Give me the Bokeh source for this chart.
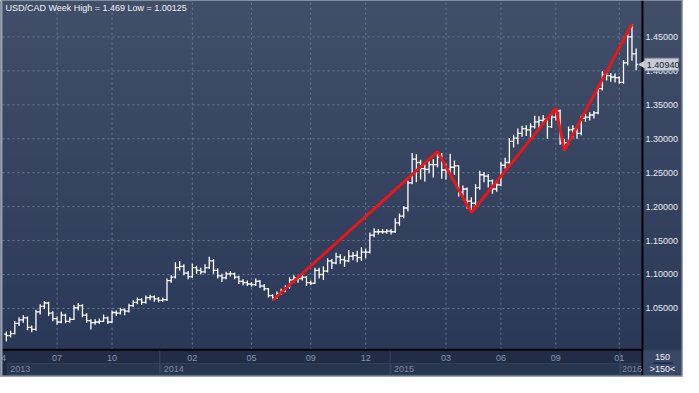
import numpy as np
from bokeh.plotting import figure
from bokeh.models import Range1d
from bokeh.core.properties import value
from bokeh.embed import file_html
from bokeh.resources import INLINE

# ---------------- data (weekly USD/CAD bars) ----------------
opens = [1.012, 1.010, 1.013, 1.028, 1.033, 1.036, 1.022, 1.019, 1.045, 1.053,
         1.058, 1.043, 1.035, 1.030, 1.040, 1.031, 1.034, 1.051, 1.054, 1.040,
         1.032, 1.029, 1.030, 1.031, 1.036, 1.030, 1.044, 1.043, 1.048, 1.046,
         1.054, 1.059, 1.063, 1.059, 1.066, 1.067, 1.064, 1.062, 1.063, 1.091,
         1.096, 1.110, 1.112, 1.102, 1.097, 1.110, 1.106, 1.104, 1.110, 1.120,
         1.106, 1.098, 1.095, 1.101, 1.101, 1.096, 1.090, 1.088, 1.086, 1.085,
         1.090, 1.083, 1.079, 1.069, 1.066, 1.072, 1.076, 1.081, 1.092, 1.095,
         1.094, 1.096, 1.088, 1.087, 1.106, 1.100, 1.105, 1.120, 1.117, 1.126,
         1.122, 1.120, 1.127, 1.128, 1.125, 1.133, 1.133, 1.158, 1.163, 1.163,
         1.163, 1.164, 1.163, 1.176, 1.186, 1.198, 1.235, 1.270, 1.265, 1.256,
         1.255, 1.262, 1.262, 1.273, 1.254, 1.255, 1.258, 1.260, 1.221, 1.226,
         1.208, 1.205, 1.228, 1.247, 1.245, 1.238, 1.226, 1.232, 1.261, 1.265,
         1.296, 1.301, 1.308, 1.315, 1.313, 1.318, 1.325, 1.327, 1.329, 1.318,
         1.332, 1.341, 1.294, 1.294, 1.313, 1.315, 1.308, 1.330, 1.332, 1.335,
         1.338, 1.374, 1.395, 1.393, 1.391, 1.390, 1.383, 1.412, 1.450, 1.425]
highs = [1.016, 1.017, 1.031, 1.037, 1.040, 1.038, 1.025, 1.048, 1.056, 1.061,
         1.060, 1.046, 1.038, 1.045, 1.042, 1.037, 1.055, 1.058, 1.056, 1.043,
         1.034, 1.034, 1.035, 1.041, 1.038, 1.047, 1.047, 1.051, 1.050, 1.057,
         1.062, 1.066, 1.065, 1.069, 1.070, 1.069, 1.067, 1.066, 1.094, 1.099,
         1.118, 1.120, 1.115, 1.105, 1.116, 1.113, 1.110, 1.115, 1.126, 1.123,
         1.109, 1.101, 1.104, 1.105, 1.103, 1.098, 1.093, 1.091, 1.089, 1.094,
         1.092, 1.086, 1.080, 1.071, 1.075, 1.079, 1.084, 1.096, 1.099, 1.098,
         1.101, 1.098, 1.091, 1.110, 1.110, 1.112, 1.124, 1.123, 1.132, 1.130,
         1.127, 1.136, 1.133, 1.135, 1.140, 1.138, 1.162, 1.168, 1.167, 1.167,
         1.167, 1.167, 1.183, 1.190, 1.201, 1.238, 1.279, 1.277, 1.269, 1.262,
         1.267, 1.270, 1.281, 1.279, 1.263, 1.278, 1.268, 1.261, 1.231, 1.228,
         1.214, 1.233, 1.253, 1.251, 1.248, 1.240, 1.239, 1.266, 1.272, 1.301,
         1.306, 1.315, 1.319, 1.320, 1.323, 1.334, 1.333, 1.335, 1.331, 1.337,
         1.345, 1.343, 1.300, 1.318, 1.320, 1.318, 1.334, 1.337, 1.339, 1.341,
         1.378, 1.400, 1.399, 1.397, 1.396, 1.392, 1.416, 1.455, 1.469, 1.433]
lows = [1.00125, 1.007, 1.012, 1.024, 1.029, 1.018, 1.015, 1.017, 1.041, 1.049,
        1.039, 1.031, 1.026, 1.028, 1.028, 1.029, 1.033, 1.047, 1.037, 1.029,
        1.019, 1.026, 1.027, 1.030, 1.027, 1.029, 1.039, 1.041, 1.040, 1.044,
        1.052, 1.056, 1.055, 1.057, 1.062, 1.060, 1.059, 1.060, 1.061, 1.088,
        1.094, 1.106, 1.099, 1.093, 1.095, 1.101, 1.100, 1.102, 1.108, 1.101,
        1.094, 1.089, 1.093, 1.097, 1.093, 1.086, 1.084, 1.083, 1.082, 1.083,
        1.080, 1.076, 1.066, 1.062, 1.064, 1.070, 1.074, 1.079, 1.088, 1.088,
        1.091, 1.083, 1.084, 1.086, 1.094, 1.092, 1.103, 1.108, 1.115, 1.116,
        1.111, 1.118, 1.121, 1.118, 1.120, 1.124, 1.131, 1.155, 1.159, 1.160,
        1.160, 1.159, 1.161, 1.172, 1.183, 1.193, 1.233, 1.236, 1.240, 1.237,
        1.249, 1.243, 1.258, 1.241, 1.240, 1.248, 1.247, 1.215, 1.216, 1.197,
        1.191, 1.198, 1.225, 1.236, 1.228, 1.219, 1.222, 1.230, 1.256, 1.263,
        1.287, 1.292, 1.303, 1.304, 1.301, 1.315, 1.313, 1.322, 1.300, 1.316,
        1.327, 1.291, 1.283, 1.292, 1.302, 1.300, 1.305, 1.325, 1.327, 1.330,
        1.336, 1.371, 1.386, 1.384, 1.383, 1.381, 1.381, 1.408, 1.415, 1.401]
closes = [1.010, 1.013, 1.028, 1.033, 1.036, 1.022, 1.019, 1.045, 1.053, 1.058,
          1.043, 1.035, 1.030, 1.040, 1.031, 1.034, 1.051, 1.054, 1.040, 1.032,
          1.029, 1.030, 1.031, 1.036, 1.030, 1.044, 1.043, 1.048, 1.046, 1.054,
          1.059, 1.063, 1.059, 1.066, 1.067, 1.064, 1.062, 1.063, 1.091, 1.096,
          1.110, 1.112, 1.102, 1.097, 1.110, 1.106, 1.104, 1.110, 1.120, 1.106,
          1.098, 1.095, 1.101, 1.101, 1.096, 1.090, 1.088, 1.086, 1.085, 1.090,
          1.083, 1.079, 1.069, 1.066, 1.072, 1.076, 1.081, 1.092, 1.095, 1.094,
          1.096, 1.088, 1.087, 1.106, 1.100, 1.105, 1.120, 1.117, 1.126, 1.122,
          1.120, 1.127, 1.128, 1.125, 1.133, 1.133, 1.158, 1.163, 1.163, 1.163,
          1.164, 1.163, 1.176, 1.186, 1.198, 1.235, 1.270, 1.265, 1.256, 1.255,
          1.262, 1.262, 1.273, 1.254, 1.255, 1.258, 1.260, 1.221, 1.226, 1.208,
          1.205, 1.228, 1.247, 1.245, 1.238, 1.226, 1.232, 1.261, 1.265, 1.296,
          1.301, 1.308, 1.315, 1.313, 1.318, 1.325, 1.327, 1.329, 1.318, 1.332,
          1.341, 1.294, 1.294, 1.313, 1.315, 1.308, 1.330, 1.332, 1.335, 1.338,
          1.374, 1.395, 1.393, 1.391, 1.390, 1.383, 1.412, 1.450, 1.425, 1.4094]

# zigzag swing points (bar index, price)
zz_idx = [63, 102, 110, 130, 132, 148]
zz_val = [1.062, 1.281, 1.191, 1.345, 1.283, 1.469]

# axis content
price_ticks = [1.05, 1.10, 1.15, 1.20, 1.25, 1.30, 1.35, 1.40, 1.45]
month_labels = ["4", "07", "10", "02", "05", "09", "12", "03", "06", "09", "01"]
month_idx = [-0.69, 12, 25, 44, 58, 72, 85, 104, 117, 130, 145]
year_labels = ["2013", "2014", "2015", "2016"]
year_start_idx = [0.0, 36.3, 90.8, 145.2]
title_text = "USD/CAD Week High = 1.469 Low = 1.00125"

# ---------------- layout helpers (reference pixel -> data coordinates) ----------------
def rx(px):
    return (px - 6.0) / 4.326

def ry(py):
    return 1.05 + (321.0 - py) / 707.5

DX = 1.0 / 4.326      # one reference pixel in bar units
DY = 1.0 / 707.5      # one reference pixel in price units
FONT = value("Liberation Sans")

p = figure(width=683, height=377, output_backend="svg", toolbar_location=None,
           x_range=Range1d(rx(0), rx(699)), y_range=Range1d(ry(393), ry(0)),
           x_axis_location=None, y_axis_location=None,
           min_border_left=0, min_border_right=0, min_border_top=0, min_border_bottom=0)
p.grid.visible = False
p.outline_line_color = None
p.background_fill_color = "#35425e"
p.border_fill_color = "#35425e"

# vertical gradient behind plot area + right scale panel
rows = 128
top_c = np.array([66, 79, 105], dtype=float)
bot_c = np.array([43, 57, 89], dtype=float)
t = np.linspace(0.0, 1.0, rows)
img = np.empty((rows, 2), dtype=np.uint32)
v = img.view(dtype=np.uint8).reshape((rows, 2, 4))
for k in range(3):
    v[:, :, k] = (bot_c[k] + (top_c[k] - bot_c[k]) * t)[:, None].astype(np.uint8)
v[:, :, 3] = 255
p.image_rgba(image=[img], x=rx(0), y=ry(364), dw=rx(699) - rx(0), dh=ry(0) - ry(364))


def box(l, r, tp, bt, fill, line=None):
    p.quad(left=[rx(l)], right=[rx(r)], top=[ry(tp)], bottom=[ry(bt)],
           fill_color=fill, line_color=line, line_width=1)


# bottom time-scale panel
box(0, 657, 364, 378, "#212d47")
box(0, 657, 378, 391, "#1e2942")
year_ends = year_start_idx[1:] + [rx(657)]
p.quad(left=[s + DX for s in year_start_idx], right=year_ends,
       top=ry(378.5), bottom=ry(390), fill_color="#28354f", line_color="#34425d")
p.segment(x0=year_start_idx[1:], y0=ry(364), x1=year_start_idx[1:], y1=ry(391),
          line_color="#3a4865", line_width=1)

# grid lines
p.segment(x0=month_idx[1:], y0=ry(364), x1=month_idx[1:], y1=ry(0),
          line_color="#6b7994", line_dash="2 3", line_width=1)
p.segment(x0=rx(2), y0=price_ticks, x1=rx(657), y1=price_ticks,
          line_color="#6b7994", line_dash="2 3", line_width=1)

# OHLC bars
idx = np.arange(len(closes))
p.segment(x0=idx, y0=lows, x1=idx, y1=highs, line_color="white", line_width=1.3)
p.segment(x0=idx - 0.5, y0=opens, x1=idx, y1=opens, line_color="white", line_width=1.3)
p.segment(x0=idx, y0=closes, x1=idx + 0.5, y1=closes, line_color="white", line_width=1.3)

# zigzag
p.line(zz_idx, zz_val, line_color="#f21414", line_width=2.8)

# scale lines
p.segment(x0=[rx(2)], y0=[ry(364)], x1=[rx(657)], y1=[ry(364)], line_color="black", line_width=2)
p.segment(x0=[rx(657)], y0=[ry(0)], x1=[rx(657)], y1=[ry(391)], line_color="black", line_width=2)

# price scale labels
p.text(x=rx(660), y=price_ticks, text=["%.5f" % v_ for v_ in price_ticks],
       text_align="left", text_baseline="middle", text_color="#e8ecf2",
       text_font=FONT, text_font_size="9px")

# month & year labels
p.text(x=month_idx, y=ry(372.5), text=month_labels, text_align="center",
       text_baseline="middle", text_color="#8895af", text_font=FONT, text_font_size="9px")
year_text_x = [s + 4 * DX for s in year_start_idx[:-1]] + [year_start_idx[-1] + 2 * DX]
p.text(x=year_text_x, y=ry(384), text=year_labels, text_align="left",
       text_baseline="middle", text_color="#7c89a4", text_font=FONT, text_font_size="9px")

# bar-count corner
box(658, 697, 365, 391, "#3a4868")
n_txt = str(len(closes))
p.segment(x0=[rx(668)], y0=[ry(378)], x1=[rx(688)], y1=[ry(378)], line_color="#1b2640", line_width=1.5)
p.text(x=[rx(677.5)], y=[ry(371.5)], text=[n_txt], text_align="center", text_baseline="middle",
       text_color="#f2f4f8", text_font=FONT, text_font_size="9px")
p.text(x=[rx(677.5)], y=[ry(384.5)], text=[">" + n_txt + "<"], text_align="center",
       text_baseline="middle", text_color="#f2f4f8", text_font=FONT, text_font_size="9px")

# last-price tag
last = closes[-1]
p.quad(left=[rx(659.5)], right=[rx(694)], top=[last + 6.5 * DY], bottom=[last - 6.5 * DY],
       fill_color="#c7cbd4", line_color="#8e96a5", line_width=1)
p.scatter(x=[rx(657.5)], y=[last], marker="triangle", size=7, angle=np.pi / 2,
          fill_color="#c7cbd4", line_color="#c7cbd4")
p.text(x=[rx(661.5)], y=[last], text=["%.5f" % last], text_align="left",
       text_baseline="middle", text_color="#121826", text_font=FONT, text_font_size="9px")

# title
p.text(x=[rx(5)], y=[ry(8)], text=[title_text], text_align="left", text_baseline="middle",
       text_color="#f2f4f8", text_font=FONT, text_font_size="9px")

# outer frame
box(0, 2, 0, 393, "#9aa3b3")
box(0, 699, 391, 393, "#9aa3b3")
box(697, 699, 0, 393, "#9aa3b3")

open("out.html", "w").write(file_html(p, INLINE))
